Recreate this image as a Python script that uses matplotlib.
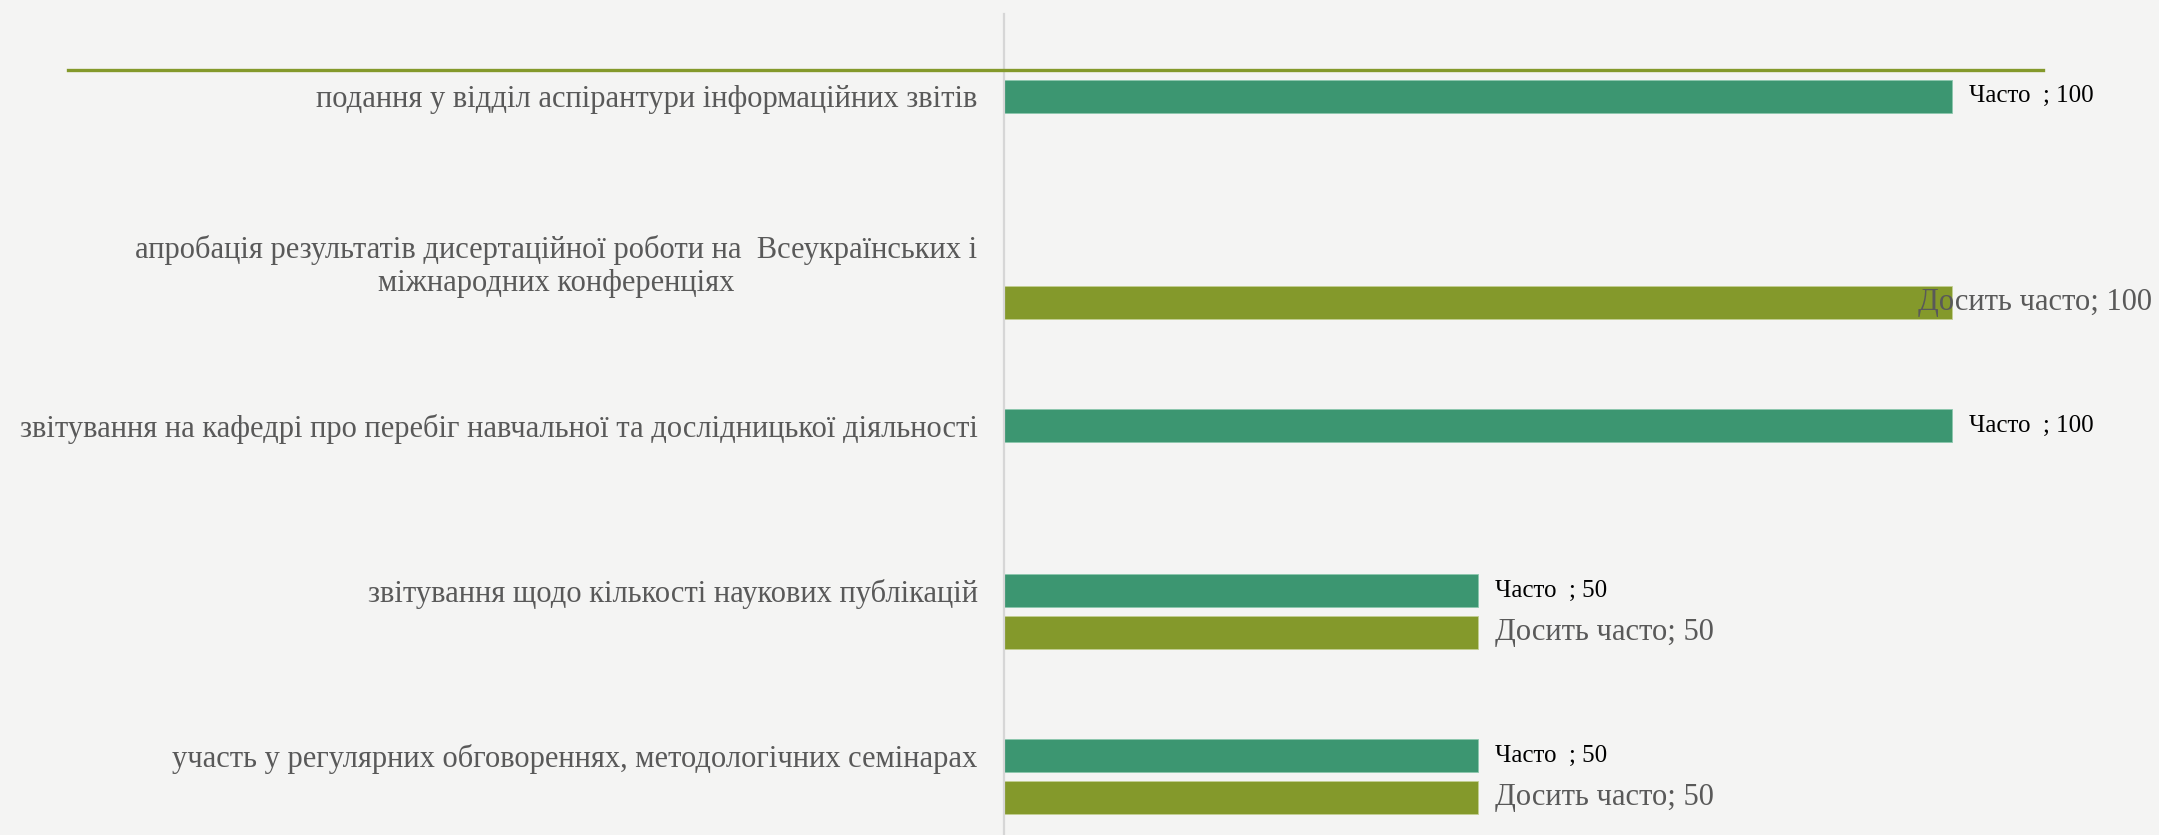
import numpy as np
import matplotlib.pyplot as plt
from matplotlib.lines import Line2D

# Дані
categories = [
    'подання у відділ аспірантури інформаційних звітів',
    'апробація результатів дисертаційної роботи на  Всеукраїнських і\nміжнародних конференціях',
    'звітування на кафедрі про перебіг навчальної та дослідницької діяльності',
    'звітування щодо кількості наукових публікацій',
    'участь у регулярних обговореннях, методологічних семінарах',
]
often = [100, 0, 100, 50, 50]
quite_often = [0, 100, 0, 50, 50]
often_name = 'Часто  '
quite_name = 'Досить часто'

teal = '#3c9671'
olive = '#84992b'
bg = '#f4f4f3'

plt.rcParams['font.family'] = ['Liberation Serif', 'DejaVu Serif']

fig = plt.figure(figsize=(21.59, 8.35), dpi=100, facecolor=bg)
ax = fig.add_axes([1004 / 2159, 0, 1 - 1004 / 2159, 1 - 14 / 835])
ax.set_facecolor('none')

y = np.arange(len(categories))
off = 0.125
h = 0.2

ax.barh(y - off, often, height=h, color=teal, edgecolor='#8cc7ad', linewidth=0.6)
ax.barh(y + off, quite_often, height=h, color=olive, edgecolor='#c3cf92', linewidth=0.6)

ax.set_xlim(0, 121.8)
ax.set_ylim(4.354, -0.622)

ax.set_yticks(y - off)
ax.set_yticklabels(categories, fontsize=22, color='#595959')
ax.tick_params(axis='y', length=0, pad=19)
for lab in ax.get_yticklabels():
    lab.set_multialignment('center')
ax.set_xticks([])

for s in ['top', 'right', 'bottom']:
    ax.spines[s].set_visible(False)
ax.spines['left'].set_color('#d6d6d6')
ax.spines['left'].set_linewidth(1.6)
ax.spines['left'].set_zorder(5)

# Підписи даних
labels = []
for i in range(len(categories)):
    if often[i] > 0:
        t = ax.annotate(f'{often_name}; {often[i]}', xy=(often[i], y[i] - off),
                        xytext=(12, 0), textcoords='offset points',
                        ha='left', va='center', fontsize=18, color='black')
        labels.append(t)
    if quite_often[i] > 0:
        t = ax.annotate(f'{quite_name}; {quite_often[i]}', xy=(quite_often[i], y[i] + off),
                        xytext=(12, 0), textcoords='offset points',
                        ha='left', va='center', fontsize=22, color='#595959')
        labels.append(t)

# зсув підписів, що виходять за межі рисунка
fig.canvas.draw()
W = fig.bbox.width
for t in labels:
    bb = t.get_window_extent()
    if bb.x1 > W - 7:
        dx = (bb.x1 - (W - 7)) * 72 / fig.dpi
        x0, y0 = t.xyann
        t.xyann = (x0 - dx, y0)

# декоративна лінія
fig.add_artist(Line2D([68 / 2159, 2043 / 2159], [1 - 70 / 835, 1 - 70 / 835],
                      transform=fig.transFigure, color=olive, linewidth=2.4, zorder=1))

fig.savefig('out.png', dpi=100, facecolor=bg)
